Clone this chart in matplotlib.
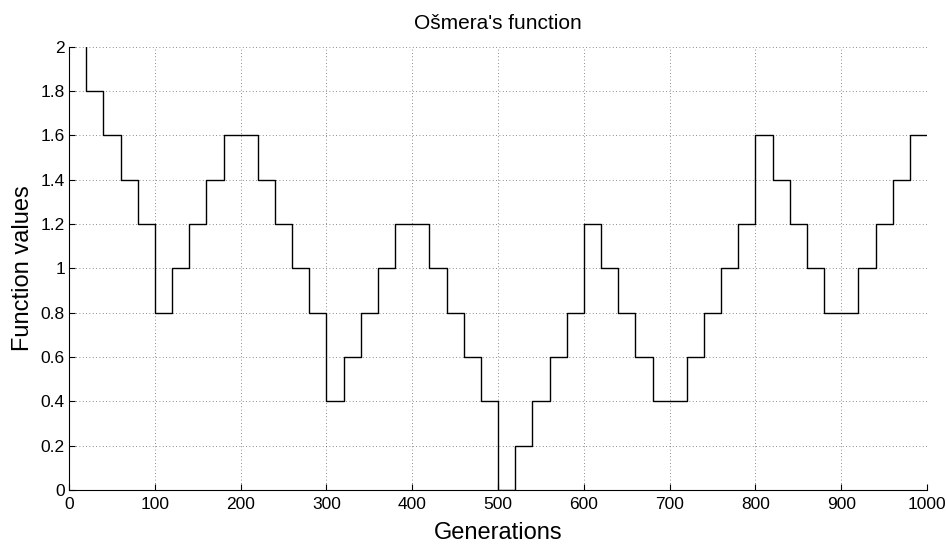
import numpy as np
import matplotlib
matplotlib.use("Agg")
import matplotlib.pyplot as plt

plt.rcParams['font.family'] = ['Liberation Sans', 'DejaVu Sans']

# step edges every 20 generations, one value per step
step_edges = list(range(0, 1001, 20))
step_values = [2.2, 1.8, 1.6, 1.4, 1.2, 0.8, 1.0, 1.2, 1.4, 1.6,
               1.6, 1.4, 1.2, 1.0, 0.8, 0.4, 0.6, 0.8, 1.0, 1.2,
               1.2, 1.0, 0.8, 0.6, 0.4, 0.0, 0.2, 0.4, 0.6, 0.8,
               1.2, 1.0, 0.8, 0.6, 0.4, 0.4, 0.6, 0.8, 1.0, 1.2,
               1.6, 1.4, 1.2, 1.0, 0.8, 0.8, 1.0, 1.2, 1.4, 1.6]

x_ticks = list(range(0, 1001, 100))
y_ticks = [0, 0.2, 0.4, 0.6, 0.8, 1, 1.2, 1.4, 1.6, 1.8, 2]
y_tick_labels = ["0", "0.2", "0.4", "0.6", "0.8", "1", "1.2", "1.4", "1.6", "1.8", "2"]

fig = plt.figure(figsize=(9.46, 5.44), dpi=100)
ax = fig.add_axes([0.073, 0.099, 0.907, 0.815])

# stairs: repeat the last value so the final step reaches 1000
ax.step(step_edges, step_values + [step_values[-1]], where="post",
        color="black", linewidth=1.0, clip_on=True)

ax.set_xlim(0, 1000)
ax.set_ylim(0, 2)
ax.set_xticks(x_ticks)
ax.set_yticks(y_ticks)
ax.set_yticklabels(y_tick_labels)

# matlab style grid and axes
ax.grid(True, linestyle=(0, (1, 3)), color="black", linewidth=0.6, alpha=0.6)
ax.spines["top"].set_visible(False)
ax.spines["right"].set_visible(False)
ax.spines["left"].set_linewidth(0.8)
ax.spines["bottom"].set_linewidth(0.8)
ax.tick_params(axis="both", direction="in", length=4, width=0.8, labelsize=12.5)
ax.tick_params(axis="x", pad=5)
ax.tick_params(axis="y", pad=3)

ax.set_xlabel("Generations", fontsize=17, labelpad=7)
ax.set_ylabel("Function values", fontsize=17, labelpad=5)
ax.set_title("Ošmera's function", fontsize=15, pad=13)

plt.savefig("out.png", dpi=100)
